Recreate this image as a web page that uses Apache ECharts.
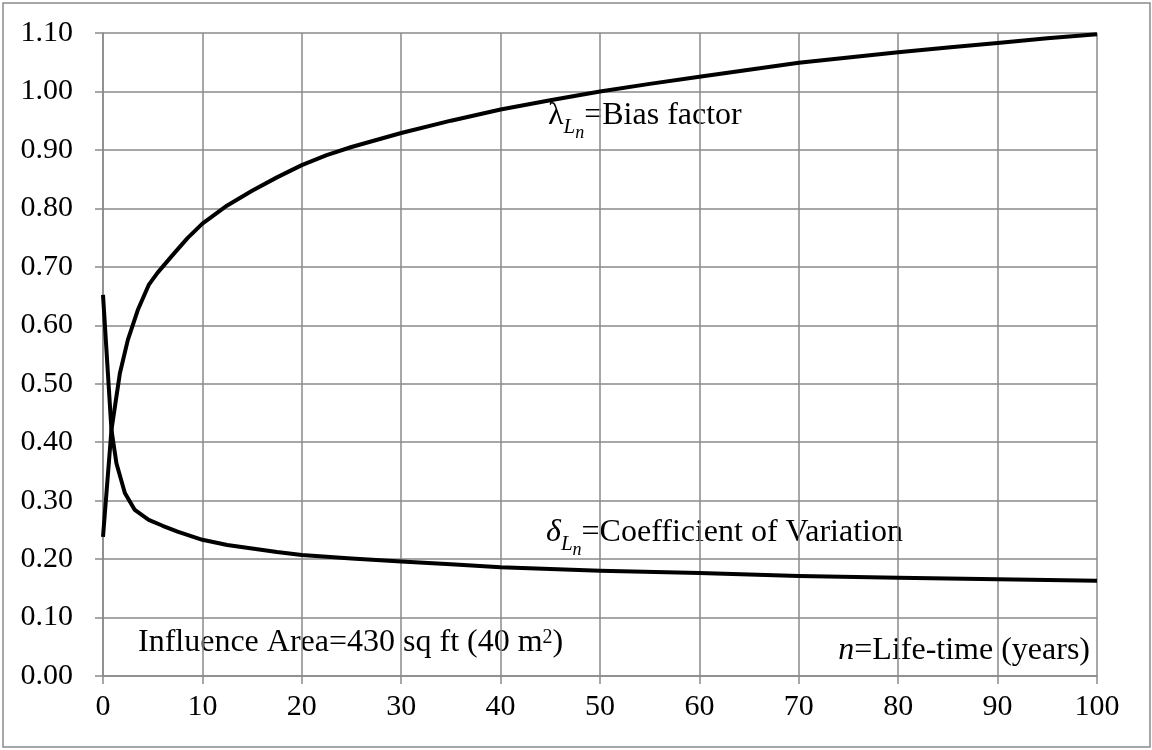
<!DOCTYPE html>
<html>
<head>
<meta charset="utf-8">
<script src="https://cdn.jsdelivr.net/npm/echarts@6/dist/echarts.min.js"></script>
<style>
    html, body { margin: 0; padding: 0; background: #fff; }
    #chart { width: 1152px; height: 750px; }
</style>
</head>
<body>
<div id="chart"></div>
<script>
// n = life-time (years) and the two curves
const biasN    = [0, 0.85, 1.7, 2.5, 3.5, 4.6, 5.5, 7, 8.5, 10, 12.5, 15, 17.5, 20, 22.5, 25, 30, 35, 40, 45, 50, 55, 60, 65, 70, 75, 80, 85, 90, 95, 100];
const biasVals = [0.238, 0.421, 0.518, 0.575, 0.626, 0.669, 0.69, 0.72, 0.749, 0.774, 0.805, 0.83, 0.853, 0.874, 0.891, 0.905, 0.929, 0.95, 0.969, 0.985, 1.0, 1.013, 1.025, 1.037, 1.049, 1.058, 1.067, 1.075, 1.083, 1.091, 1.098];
const covN     = [0, 0.85, 1.35, 2.2, 3.2, 4.6, 6, 7.5, 10, 12.5, 15, 17.5, 20, 22.5, 25, 30, 35, 40, 45, 50, 60, 70, 80, 90, 100];
const covVals  = [0.652, 0.421, 0.364, 0.313, 0.284, 0.267, 0.257, 0.247, 0.233, 0.224, 0.218, 0.212, 0.207, 0.204, 0.201, 0.196, 0.191, 0.186, 0.183, 0.18, 0.176, 0.171, 0.168, 0.1655, 0.163];

const FONT = '"Liberation Serif", "Times New Roman", serif';
const GRAY = '#8a8a8a';

// measure text so sub/superscript pieces can be laid side by side
const measureCtx = document.createElement('canvas').getContext('2d');
function fontOf(size, italic) {
    return (italic ? 'italic ' : '') + size + 'px ' + FONT;
}

// pieces: [text, size, italic, offset of box bottom]
// anchor 'left' starts at x, 'right' ends at x
function richText(x, bottom, pieces, anchor) {
    const widths = pieces.map(function (p) {
        measureCtx.font = fontOf(p[1], p[2]);
        return measureCtx.measureText(p[0]).width;
    });
    let cx = x;
    if (anchor === 'right') {
        cx = x - widths.reduce(function (a, b) { return a + b; }, 0);
    }
    const children = [];
    pieces.forEach(function (p, i) {
        children.push({
            type: 'text',
            x: cx,
            y: bottom + (p[3] || 0),
            style: {
                text: p[0],
                font: fontOf(p[1], p[2]),
                fill: '#000',
                verticalAlign: 'bottom'
            }
        });
        cx += widths[i];
    });
    return { type: 'group', children: children, z: 100 };
}

function pairs(xs, ys) {
    return xs.map(function (v, i) { return [v, ys[i]]; });
}

const chart = echarts.init(document.getElementById('chart'));

const option = {
    backgroundColor: '#fff',
    animation: false,
    grid: {
        left: 103,
        right: 55,
        top: 33,
        bottom: 74,
        outerBoundsMode: 'none'
    },
    xAxis: {
        type: 'value',
        min: 0,
        max: 100,
        interval: 10,
        axisLine: { show: true, lineStyle: { color: GRAY, width: 1.5 } },
        axisTick: { show: true, length: 8, lineStyle: { color: GRAY, width: 1.5 } },
        splitLine: { show: true, lineStyle: { color: GRAY, width: 1.5 } },
        axisLabel: {
            margin: 16,
            color: '#000',
            fontFamily: FONT,
            fontSize: 30
        }
    },
    yAxis: {
        type: 'value',
        min: 0,
        max: 1.1,
        interval: 0.1,
        axisLine: { show: true, lineStyle: { color: GRAY, width: 1.5 } },
        axisTick: { show: true, length: 8, lineStyle: { color: GRAY, width: 1.5 } },
        splitLine: { show: true, lineStyle: { color: GRAY, width: 1.5 } },
        axisLabel: {
            margin: 30,
            color: '#000',
            fontFamily: FONT,
            fontSize: 30,
            formatter: function (v) { return v.toFixed(2); }
        }
    },
    series: [
        {
            name: 'Bias factor',
            type: 'line',
            showSymbol: false,
            data: pairs(biasN, biasVals),
            lineStyle: { color: '#000', width: 4, join: 'round' },
            z: 10
        },
        {
            name: 'Coefficient of Variation',
            type: 'line',
            showSymbol: false,
            data: pairs(covN, covVals),
            lineStyle: { color: '#000', width: 4, join: 'round' },
            z: 10
        }
    ],
    graphic: [
        {
            type: 'rect',
            shape: { x: 3, y: 3, width: 1147, height: 744 },
            style: { fill: 'none', stroke: GRAY, lineWidth: 1.5 },
            silent: true
        },
        richText(548, 132, [
            ['\u03bb', 32, false, 0],
            ['L', 21, true, 6],
            ['n', 18, true, 10],
            ['=Bias factor', 32, false, 0]
        ]),
        richText(546, 549, [
            ['\u03b4', 32, true, 0],
            ['L', 21, true, 6],
            ['n', 18, true, 10],
            ['=Coefficient of Variation', 32, false, 0]
        ]),
        richText(138, 659, [
            ['Influence Area=430 sq ft (40 m', 32, false, 0],
            ['2', 20, false, -11],
            [')', 32, false, 0]
        ]),
        richText(1090, 667, [
            ['n', 32, true, 0],
            ['=Life-time (years)', 32, false, 0]
        ], 'right')
    ]
};

chart.setOption(option);

window.addEventListener('resize', function () {
    chart.resize();
});
</script>
</body>
</html>
